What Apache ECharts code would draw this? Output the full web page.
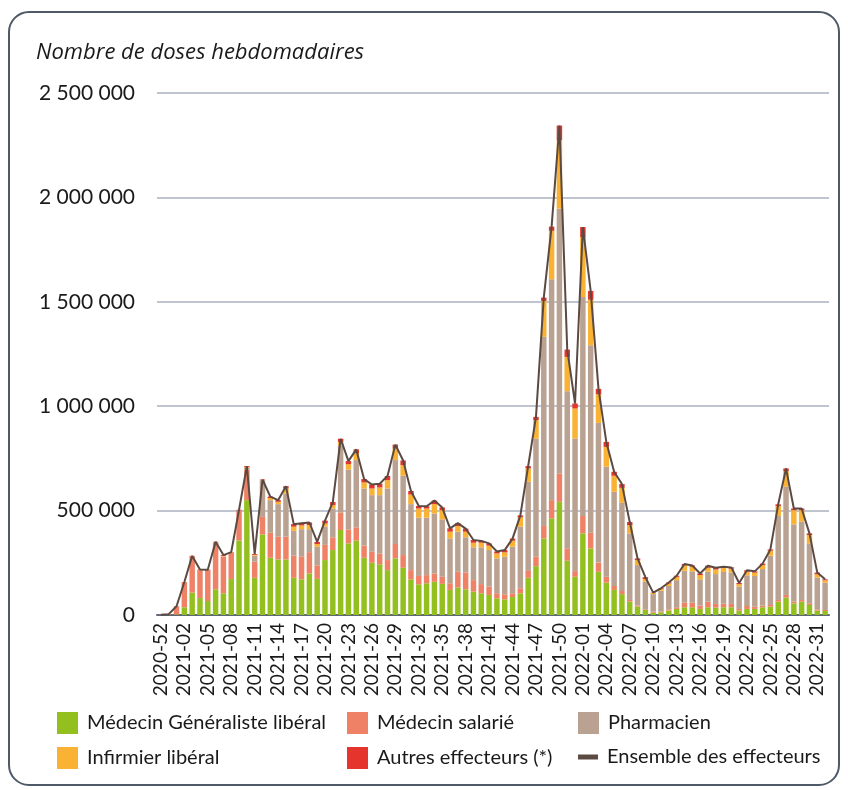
<!DOCTYPE html>
<html>
<head>
<meta charset="utf-8">
<script src="https://cdn.jsdelivr.net/npm/echarts@6/dist/echarts.min.js"></script>
<style>
html,body{margin:0;padding:0;background:#fff;}
#chart{width:848px;height:790px;}
</style>
</head>
<body>
<div id="chart"></div>
<script>
var weeks = [
'2020-52','2020-53',
'2021-01','2021-02','2021-03','2021-04','2021-05','2021-06','2021-07','2021-08','2021-09','2021-10',
'2021-11','2021-12','2021-13','2021-14','2021-15','2021-16','2021-17','2021-18','2021-19','2021-20',
'2021-21','2021-22','2021-23','2021-24','2021-25','2021-26','2021-27','2021-28','2021-29','2021-30',
'2021-31','2021-32','2021-33','2021-34','2021-35','2021-36','2021-37','2021-38','2021-39','2021-40',
'2021-41','2021-42','2021-43','2021-44','2021-45','2021-46','2021-47','2021-48','2021-49','2021-50',
'2021-51','2021-52',
'2022-01','2022-02','2022-03','2022-04','2022-05','2022-06','2022-07','2022-08','2022-09','2022-10',
'2022-11','2022-12','2022-13','2022-14','2022-15','2022-16','2022-17','2022-18','2022-19','2022-20',
'2022-21','2022-22','2022-23','2022-24','2022-25','2022-26','2022-27','2022-28','2022-29','2022-30',
'2022-31','2022-32'
];

var generaliste = [
0,0,
3000,37000,107000,81000,67000,123000,104000,172000,357000,550000,
178000,386000,274000,266000,266000,178000,171000,199000,173000,263000,
311000,407000,343000,356000,274000,250000,243000,215000,271000,226000,
171000,147000,152000,159000,149000,120000,132000,123000,112000,104000,
96000,80000,75000,86000,104000,178000,234000,367000,463000,542000,
260000,183000,
391000,319000,207000,155000,120000,100000,64000,40000,24000,11000,
13000,21000,29000,37000,37000,29000,37000,35000,37000,37000,
21000,29000,29000,37000,40000,64000,83000,56000,64000,48000,
21000,19000
];

var salarie = [
1000,4000,
37000,118000,172000,134000,148000,225000,175000,126000,142000,147000,
77000,84000,120000,109000,109000,106000,108000,102000,65000,73000,
61000,83000,67000,64000,58000,53000,52000,48000,69000,61000,
44000,40000,39000,40000,34000,32000,75000,81000,55000,44000,
40000,24000,24000,18000,24000,33000,45000,59000,87000,136000,
59000,27000,
83000,75000,44000,28000,19000,15000,8000,5000,3000,5000,
4000,6000,8000,22000,22000,16000,27000,18000,17000,16000,
8000,14000,11000,8000,8000,8000,13000,8000,8000,8000,
6000,5000
];

var pharmacien = [
0,0,
0,0,0,0,0,0,2000,0,1000,8000,
29000,176000,156000,156000,207000,119000,132000,110000,89000,87000,
138000,323000,287000,322000,274000,271000,279000,343000,402000,380000,
316000,279000,275000,287000,275000,215000,192000,168000,157000,176000,
175000,167000,180000,223000,295000,427000,566000,906000,1058000,1268000,
753000,635000,
1049000,898000,669000,527000,451000,422000,319000,194000,133000,84000,
99000,112000,130000,153000,150000,126000,143000,143000,152000,151000,
107000,147000,147000,175000,236000,402000,518000,370000,375000,287000,
152000,131000
];

var infirmier = [
0,0,
0,1000,1000,1000,0,1000,2000,1000,1000,3000,
4000,1000,10000,11000,24000,20000,18000,20000,13000,15000,
16000,16000,25000,32000,29000,32000,37000,40000,55000,51000,
46000,44000,44000,45000,44000,32000,27000,27000,22000,22000,
21000,24000,21000,29000,45000,64000,88000,172000,232000,327000,
164000,144000,
287000,218000,137000,95000,77000,72000,40000,24000,12000,5000,
8000,12000,16000,25000,22000,20000,19000,22000,19000,18000,
12000,17000,16000,19000,24000,48000,75000,68000,55000,40000,
16000,11000
];

var autres = [
0,0,
2000,2000,3000,2000,2000,2000,4000,2000,3000,5000,
4000,2000,7000,8000,11000,12000,10000,12000,10000,14000,
15000,15000,15000,19000,16000,19000,18000,20000,19000,22000,
17000,12000,11000,17000,13000,16000,14000,15000,13000,9000,
11000,9000,11000,10000,9000,11000,16000,16000,20000,71000,
35000,24000,
48000,42000,26000,24000,19000,18000,14000,8000,9000,2000,
4000,5000,5000,7000,6000,8000,10000,8000,6000,6000,
5000,7000,6000,7000,6000,8000,13000,8000,8000,8000,
8000,5000
];

var ensemble = [
1000,4000,
42000,158000,283000,218000,217000,351000,287000,301000,504000,713000,
292000,649000,567000,550000,617000,435000,439000,443000,350000,452000,
541000,844000,737000,793000,651000,625000,629000,666000,816000,740000,
594000,522000,521000,548000,515000,415000,440000,414000,359000,355000,
343000,304000,311000,366000,477000,713000,949000,1520000,1860000,2344000,
1271000,1013000,
1858000,1552000,1083000,829000,686000,627000,445000,271000,181000,107000,
128000,156000,188000,244000,237000,199000,236000,226000,231000,228000,
153000,214000,209000,246000,314000,530000,702000,510000,510000,391000,
203000,171000
];

var yTicks = [0, 500000, 1000000, 1500000, 2000000, 2500000];

var names = ['Médecin Généraliste libéral','Médecin salarié','Pharmacien','Infirmier libéral','Autres effecteurs (*)','Ensemble des effecteurs'];
var colors = ['#93c01f','#ef8266','#b9a291','#f9b233','#e4342b','#5b4a42'];

var FONT = 'Lato';
function fmt(v){ return String(v).replace(/\B(?=(\d{3})+(?!\d))/g, ' '); }

var chart = echarts.init(document.getElementById('chart'));

function barSeries(i, data){
  return {
    name: names[i], type: 'bar', stack: 'total', data: data,
    barCategoryGap: '30%',
    itemStyle: { color: colors[i] },
    emphasis: { disabled: true }
  };
}

function legendAt(i, left, top, isLine){
  return {
    data: [{ name: names[i], icon: 'rect', itemStyle: { color: colors[i] } }],
    left: left, top: top, padding: 0,
    itemWidth: isLine ? 20 : 21, itemHeight: isLine ? 5 : 22,
    textStyle: { fontFamily: FONT, fontSize: 20, color: '#1a1a1a', padding: [0,0,0,4] },
    selectedMode: false
  };
}

chart.setOption({
  animation: false,
  backgroundColor: '#ffffff',
  title: {
    text: 'Nombre de doses hebdomadaires',
    left: 36, top: 42, padding: 0,
    textStyle: { fontFamily: 'Open Sans', fontStyle: 'italic', fontWeight: 'normal', fontSize: 22, color: '#1a1a1a' }
  },
  graphic: [{
    type: 'rect', silent: true,
    shape: { x: 9, y: 12, width: 830, height: 773, r: 20 },
    style: { fill: 'none', stroke: '#4f5a68', lineWidth: 2 }
  }],
  legend: [
    legendAt(0, 57, 712, false),
    legendAt(1, 347, 712, false),
    legendAt(2, 578, 712, false),
    legendAt(3, 57, 747, false),
    legendAt(4, 347, 747, false),
    legendAt(5, 578, 747, true)
  ],
  grid: { left: 157, right: 19, top: 93, bottom: 175, containLabel: false },
  xAxis: {
    type: 'category', data: weeks, boundaryGap: true,
    axisLine: { lineStyle: { color: '#5d6876', width: 2 } },
    axisTick: { show: false },
    axisLabel: { interval: 2, rotate: 90, margin: 8, fontFamily: FONT, fontSize: 19, color: '#1a1a1a' }
  },
  yAxis: {
    type: 'value', min: yTicks[0], max: yTicks[yTicks.length-1], interval: yTicks[1]-yTicks[0],
    axisLine: { show: false }, axisTick: { show: false },
    splitLine: { lineStyle: { color: '#a8b2c0', width: 1.5 } },
    axisLabel: { margin: 22, fontFamily: FONT, fontSize: 21, color: '#1a1a1a', formatter: fmt }
  },
  series: [
    barSeries(0, generaliste),
    barSeries(1, salarie),
    barSeries(2, pharmacien),
    barSeries(3, infirmier),
    barSeries(4, autres),
    {
      name: names[5], type: 'line', data: ensemble, showSymbol: false, symbol: 'none',
      lineStyle: { color: colors[5], width: 2 }, itemStyle: { color: colors[5] },
      z: 5, emphasis: { disabled: true }
    }
  ]
});
</script>
</body>
</html>
